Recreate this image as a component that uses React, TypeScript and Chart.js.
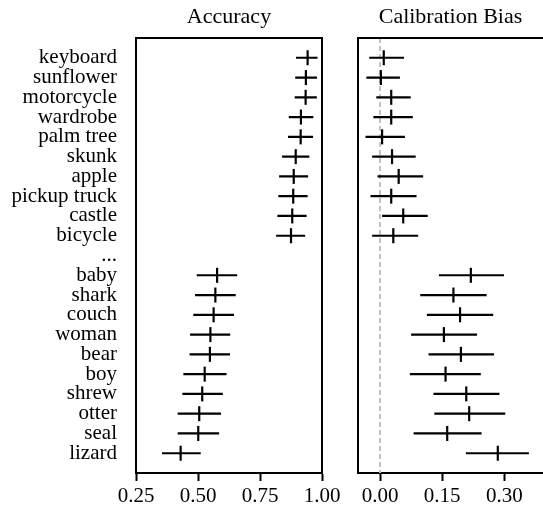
import React, { useEffect, useRef } from 'react';
import { Chart, registerables } from 'chart.js';

Chart.register(...registerables);

const categories = [
  'keyboard', 'sunflower', 'motorcycle', 'wardrobe', 'palm tree', 'skunk', 'apple',
  'pickup truck', 'castle', 'bicycle', '...', 'baby', 'shark', 'couch', 'woman',
  'bear', 'boy', 'shrew', 'otter', 'seal', 'lizard',
];

const accMean = [0.942, 0.935, 0.934, 0.915, 0.914, 0.894, 0.886, 0.884, 0.880, 0.875, null,
  0.577, 0.570, 0.563, 0.550, 0.548, 0.527, 0.517, 0.505, 0.501, 0.430];
const accLow = [0.895, 0.892, 0.890, 0.866, 0.863, 0.839, 0.827, 0.824, 0.820, 0.815, null,
  0.495, 0.488, 0.481, 0.468, 0.466, 0.441, 0.437, 0.418, 0.418, 0.355];
const accHigh = [0.982, 0.980, 0.979, 0.965, 0.964, 0.949, 0.944, 0.942, 0.938, 0.932, null,
  0.658, 0.652, 0.645, 0.630, 0.629, 0.615, 0.600, 0.593, 0.585, 0.511];

const biasMean = [0.009, 0.002, 0.027, 0.027, 0.005, 0.029, 0.045, 0.027, 0.056, 0.032, null,
  0.219, 0.177, 0.193, 0.154, 0.195, 0.158, 0.208, 0.215, 0.162, 0.284];
const biasLow = [-0.026, -0.033, -0.009, -0.016, -0.035, -0.019, -0.006, -0.023, 0.005, -0.019, null,
  0.142, 0.097, 0.113, 0.075, 0.117, 0.072, 0.129, 0.131, 0.081, 0.207];
const biasHigh = [0.058, 0.048, 0.074, 0.079, 0.060, 0.086, 0.104, 0.088, 0.115, 0.092, null,
  0.299, 0.257, 0.273, 0.234, 0.275, 0.243, 0.288, 0.302, 0.245, 0.359];

const accTicks = [0.25, 0.5, 0.75, 1.0];
const biasTicks = [0, 0.15, 0.3];

const FONT = { family: 'Liberation Serif', size: 21 };
const TITLE_SIZE = 22;

function buildErrorLines(low: (number | null)[], high: (number | null)[]) {
  const pts: { x: number | null; y: number | null }[] = [];
  low.forEach((lo, i) => {
    const hi = high[i];
    if (lo === null || hi === null) return;
    pts.push({ x: lo, y: i }, { x: hi, y: i }, { x: null, y: null });
  });
  return pts;
}

function buildMarkers(mean: (number | null)[]) {
  const pts: { x: number; y: number }[] = [];
  mean.forEach((m, i) => {
    if (m !== null) pts.push({ x: m, y: i });
  });
  return pts;
}

function framePlugin(title: string, drawRight: boolean) {
  return {
    id: 'frame_' + title.replace(/\s/g, ''),
    afterDraw(chart: any) {
      const { ctx, chartArea } = chart;
      ctx.save();
      ctx.strokeStyle = '#000';
      ctx.lineWidth = 2;
      ctx.beginPath();
      ctx.moveTo(chartArea.left - 1, chartArea.top);
      ctx.lineTo(chartArea.right + 1, chartArea.top);
      if (drawRight) {
        ctx.moveTo(chartArea.right, chartArea.top);
        ctx.lineTo(chartArea.right, chartArea.bottom + 1);
      }
      ctx.stroke();
      ctx.fillStyle = '#000';
      ctx.font = `${TITLE_SIZE}px "${FONT.family}"`;
      ctx.textAlign = 'center';
      ctx.textBaseline = 'alphabetic';
      ctx.fillText(title, (chartArea.left + chartArea.right) / 2, 23);
      ctx.restore();
    },
  };
}

function makeConfig(opts: {
  title: string;
  mean: (number | null)[];
  low: (number | null)[];
  high: (number | null)[];
  ticks: number[];
  min: number;
  max: number;
  decimals: number;
  showLabels: boolean;
  yWidth: number;
  rightPad: number;
  zeroLine: boolean;
}): any {
  const datasets: any[] = [
    {
      data: buildMarkers(opts.mean),
      showLine: false,
      pointStyle: 'line',
      rotation: 90,
      pointRadius: 7.5,
      pointHoverRadius: 7.5,
      pointBorderWidth: 2.2,
      borderColor: '#000',
      backgroundColor: '#000',
    },
    {
      data: buildErrorLines(opts.low, opts.high),
      showLine: true,
      spanGaps: false,
      pointRadius: 0,
      borderWidth: 2.2,
      borderColor: '#000',
      borderCapStyle: 'butt',
    },
  ];
  if (opts.zeroLine) {
    datasets.push({
      data: [{ x: 0, y: -1 }, { x: 0, y: 21 }],
      showLine: true,
      pointRadius: 0,
      borderWidth: 2,
      borderColor: '#c4c4c4',
      borderDash: [5, 3],
    });
  }
  return {
    type: 'scatter',
    data: { datasets },
    options: {
      animation: false,
      responsive: false,
      maintainAspectRatio: false,
      events: [],
      layout: { autoPadding: false, padding: { top: 38, right: opts.rightPad, left: 0, bottom: 0 } },
      plugins: { legend: { display: false }, tooltip: { enabled: false }, title: { display: false } },
      scales: {
        x: {
          type: 'linear',
          min: opts.min,
          max: opts.max,
          afterBuildTicks: (s: any) => {
            s.ticks = opts.ticks.map((v) => ({ value: v }));
          },
          ticks: {
            callback: (v: any) => Number(v).toFixed(opts.decimals),
            font: FONT,
            color: '#000',
            padding: 3,
            maxRotation: 0,
            autoSkip: false,
          },
          grid: { drawOnChartArea: false, drawTicks: true, tickLength: 8, tickWidth: 2, tickColor: '#000' },
          border: { display: true, width: 2, color: '#000' },
          afterFit: (s: any) => {
            s.height = 36;
            s.paddingLeft = 0;
            s.paddingRight = 0;
          },
        },
        y: {
          type: 'linear',
          min: -1,
          max: 21,
          reverse: true,
          afterBuildTicks: (s: any) => {
            s.ticks = categories.map((_, i) => ({ value: i }));
          },
          ticks: {
            display: opts.showLabels,
            callback: (v: any) => categories[v] ?? '',
            autoSkip: false,
            font: FONT,
            color: '#000',
            padding: 19,
          },
          grid: { display: false, drawTicks: false },
          border: { display: true, width: 2, color: '#000' },
          afterFit: (s: any) => {
            s.width = opts.yWidth;
            s.paddingTop = 0;
            s.paddingBottom = 0;
          },
        },
      },
    },
    plugins: [framePlugin(opts.title, !opts.zeroLine)],
  };
}

function ChartCanvas({ config, width, height, left }: { config: any; width: number; height: number; left: number }) {
  const ref = useRef<HTMLCanvasElement | null>(null);
  useEffect(() => {
    if (!ref.current) return;
    const chart = new Chart(ref.current, config);
    return () => chart.destroy();
  }, [config]);
  return (
    <canvas
      ref={ref}
      width={width}
      height={height}
      style={{ position: 'absolute', left, top: 0, width, height, display: 'block' }}
    />
  );
}

const accConfig = makeConfig({
  title: 'Accuracy',
  mean: accMean,
  low: accLow,
  high: accHigh,
  ticks: accTicks,
  min: 0.25,
  max: 1.0,
  decimals: 2,
  showLabels: true,
  yWidth: 136,
  rightPad: 18,
  zeroLine: false,
});

const biasConfig = makeConfig({
  title: 'Calibration Bias',
  mean: biasMean,
  low: biasLow,
  high: biasHigh,
  ticks: biasTicks,
  min: -0.0531,
  max: 0.393,
  decimals: 2,
  showLabels: false,
  yWidth: 18,
  rightPad: 0,
  zeroLine: true,
});

export default function App() {
  return (
    <div style={{ position: 'fixed', left: 0, top: 0, width: 543, height: 509, background: '#fff', overflow: 'hidden' }}>
      <ChartCanvas config={accConfig} width={340} height={509} left={0} />
      <ChartCanvas config={biasConfig} width={203} height={509} left={340} />
    </div>
  );
}
